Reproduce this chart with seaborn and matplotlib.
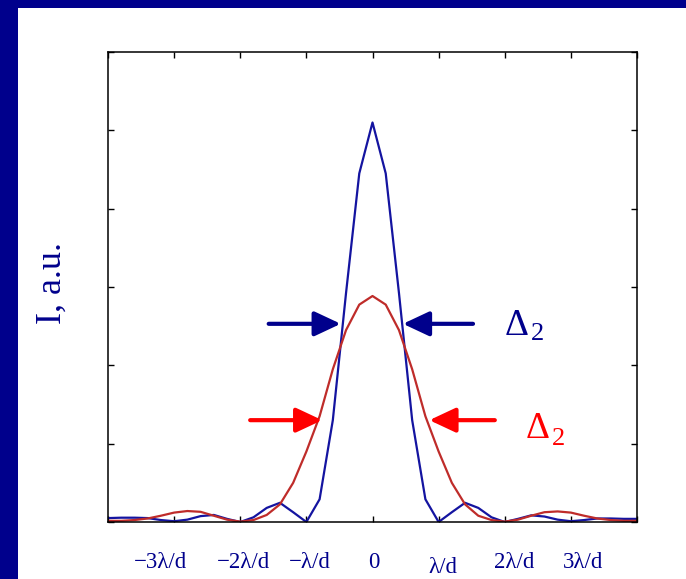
import matplotlib
matplotlib.use("Agg")
import matplotlib.pyplot as plt
from matplotlib.patches import FancyArrowPatch, Rectangle
from matplotlib.transforms import blended_transform_factory
import pandas as pd
import seaborn as sns

# Angular position, in units of lambda/d
x_pos = [-4.0, -3.8, -3.6, -3.4, -3.2, -3.0, -2.8, -2.6, -2.4, -2.2, -2.0,
         -1.8, -1.6, -1.4, -1.2, -1.0, -0.8, -0.6, -0.4, -0.2, 0.0,
         0.2, 0.4, 0.6, 0.8, 1.0, 1.2, 1.4, 1.6, 1.8, 2.0,
         2.2, 2.4, 2.6, 2.8, 3.0, 3.2, 3.4, 3.6, 3.8, 4.0]

# Intensity profiles (arbitrary units)
narrow_I = [0.010, 0.011, 0.011, 0.010, 0.005, 0.002, 0.006, 0.015, 0.018, 0.008, 0.000,
            0.012, 0.036, 0.049, 0.025, 0.000, 0.058, 0.260, 0.585, 0.890, 1.020,
            0.890, 0.585, 0.260, 0.058, 0.000, 0.025, 0.049, 0.036, 0.012, 0.000,
            0.008, 0.017, 0.014, 0.006, 0.002, 0.005, 0.009, 0.009, 0.008, 0.008]
broad_I = [0.003, 0.003, 0.005, 0.009, 0.016, 0.024, 0.028, 0.026, 0.016, 0.006, 0.001,
           0.005, 0.018, 0.045, 0.100, 0.180, 0.270, 0.390, 0.490, 0.555, 0.577,
           0.555, 0.490, 0.390, 0.270, 0.180, 0.100, 0.045, 0.016, 0.005, 0.001,
           0.006, 0.016, 0.025, 0.027, 0.024, 0.016, 0.009, 0.005, 0.003, 0.003]

tick_text = ["\u22123\u03bb/d", "\u22122\u03bb/d", "\u2212\u03bb/d", "0", "\u03bb/d", "2\u03bb/d", "3\u03bb/d"]
tick_text_x = [-3.20, -1.95, -0.95, 0.02, 1.06, 2.15, 3.19]

NAVY = "#00008c"
BLUE_LINE = "#1414a0"
RED_LINE = "#bf2c2a"
SERIF = ["Liberation Serif", "DejaVu Serif"]

df = pd.DataFrame({
    "x": x_pos * 2,
    "I": narrow_I + broad_I,
    "profile": ["narrow"] * len(x_pos) + ["broad"] * len(x_pos),
})

sns.set_theme(style="white")
plt.rcParams["font.family"] = SERIF

fig = plt.figure(figsize=(6.86, 5.79), dpi=100)
fig.patch.set_facecolor("white")

# slide frame
fig.add_artist(Rectangle((0, 1 - 8 / 579), 1, 8 / 579, transform=fig.transFigure,
                         facecolor=NAVY, edgecolor="none", zorder=0))
fig.add_artist(Rectangle((0, 0), 18 / 686, 1, transform=fig.transFigure,
                         facecolor=NAVY, edgecolor="none", zorder=0))

ax = fig.add_axes([108 / 686, 57 / 579, 529 / 686, 470 / 579])

sns.lineplot(data=df, x="x", y="I", hue="profile", estimator=None, sort=False,
             palette={"narrow": BLUE_LINE, "broad": RED_LINE},
             hue_order=["narrow", "broad"], linewidth=1.6, legend=False, ax=ax)

ax.set_xlim(-4, 4)
ax.set_ylim(0, 1.2)
ax.set_xticks([-4, -3, -2, -1, 0, 1, 2, 3, 4])
ax.set_yticks([0, 0.2, 0.4, 0.6, 0.8, 1.0, 1.2])
ax.tick_params(direction="in", length=4.5, width=1, color="black",
               top=True, right=True, bottom=True, left=True,
               labelbottom=False, labelleft=False)
ax.set_xlabel("")
ax.set_ylabel("")
for sp in ax.spines.values():
    sp.set_visible(True)
    sp.set_color("black")
    sp.set_linewidth(1.1)

# angular labels under the axis
tr = blended_transform_factory(ax.transData, ax.transAxes)
for xt, lab in zip(tick_text_x, tick_text):
    dy = -0.096 if lab == "\u03bb/d" else -0.087
    ax.text(xt, dy, lab, transform=tr, ha="center", va="center",
            fontsize=16.5, color=NAVY, clip_on=False)

ax.text(-0.089, 0.508, "I, a.u.", transform=ax.transAxes, rotation=90,
        rotation_mode="anchor", ha="center", va="baseline",
        fontsize=26, color=NAVY, clip_on=False)


def width_arrow(x0, x1, y, color):
    ax.add_patch(FancyArrowPatch((x0, y), (x1, y),
                                 arrowstyle="-|>,head_length=1.6,head_width=0.75",
                                 mutation_scale=10, lw=3, color=color,
                                 shrinkA=0, shrinkB=0, zorder=5, clip_on=False))


# half-width markers
width_arrow(-1.57, -0.48, 0.506, NAVY)
width_arrow(1.52, 0.46, 0.506, NAVY)
width_arrow(-1.85, -0.76, 0.260, "#ff0000")
width_arrow(1.85, 0.86, 0.260, "#ff0000")

ax.text(2.00, 0.477, "\u0394", ha="left", va="baseline", fontsize=27, color=NAVY)
ax.text(2.39, 0.465, "2", ha="left", va="baseline", fontsize=19, color=NAVY)
ax.text(2.32, 0.214, "\u0394", ha="left", va="baseline", fontsize=27, color="#ff0000")
ax.text(2.71, 0.197, "2", ha="left", va="baseline", fontsize=19, color="#ff0000")

fig.savefig("out.png", dpi=100)
